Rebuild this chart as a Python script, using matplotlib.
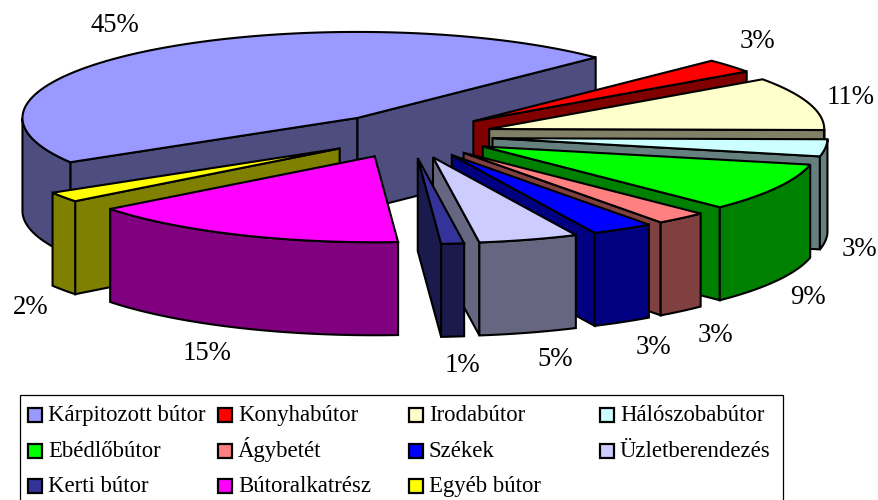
import numpy as np
import matplotlib
matplotlib.use('Agg')
import matplotlib.pyplot as plt
from matplotlib.colors import to_rgb
from matplotlib.patches import Polygon, Rectangle

plt.rcParams['font.family'] = ['Liberation Serif', 'DejaVu Serif']

categories = ['Kárpitozott bútor', 'Konyhabútor', 'Irodabútor', 'Hálószobabútor',
              'Ebédlőbútor', 'Ágybetét', 'Székek', 'Üzletberendezés',
              'Kerti bútor', 'Bútoralkatrész', 'Egyéb bútor']
# slice sizes as measured on the picture, the printed labels are rounded differently
shares = [46.2, 2.6, 10.0, 3.2, 9.1, 2.5, 3.0, 4.8, 1.1, 15.6, 1.9]
pct_labels = ['45%', '3%', '11%', '3%', '9%', '3%', '3%', '5%', '1%', '15%', '2%']
colors = ['#9999FF', '#FF0000', '#FFFFCC', '#CCFFFF', '#00FF00', '#FF8080',
          '#0000FF', '#CCCCFF', '#333399', '#FF00FF', '#FFFF00']

label_pos = [(115, 25), (757, 41), (851, 97), (859, 249), (808, 297), (715, 336),
             (653, 348), (555, 360), (462, 365), (207, 354), (31, 307)]

# pie geometry in pixels
CX, CY = 409, 135.7
RX, RY = 335, 86
EX, EY = 84, 22.5
DEPTH = 93
START = 211
LW = 1.5

# back slices first, then the left ones, then round the front
draw_order = [0, 10, 9, 1, 2, 3, 4, 5, 6, 7, 8]


def darker(c):
    return tuple(v * 0.5 for v in to_rgb(c))


def rim(ox, oy, angles):
    rad = np.radians(angles)
    return np.column_stack([ox + RX * np.cos(rad), oy - RY * np.sin(rad)])


def drop(pts):
    return (pts + [0, DEPTH])[::-1]


def draw_slice(ax, a0, a1, color):
    """a0 is the clockwise start, a1 < a0 the clockwise end, degrees"""
    mid = np.radians((a0 + a1) / 2)
    ox = CX + EX * np.cos(mid)
    oy = CY - EY * np.sin(mid)
    apex = np.array([[ox, oy]])
    side = darker(color)

    def wall(pts):
        ax.add_patch(Polygon(np.vstack([pts, drop(pts)]), closed=True, fc=side,
                             ec='black', lw=LW, joinstyle='miter'))

    if np.cos(np.radians(a0)) < 0:
        wall(np.vstack([apex, rim(ox, oy, [a0])]))
    if np.cos(np.radians(a1)) > 0:
        wall(np.vstack([apex, rim(ox, oy, [a1])]))

    # outer wall, only the part facing the viewer
    angles = np.linspace(a0, a1, 200)
    front = angles[np.sin(np.radians(angles)) <= 0.0001]
    if len(front) > 1:
        wall(rim(ox, oy, front))

    top = np.vstack([apex, rim(ox, oy, angles)])
    ax.add_patch(Polygon(top, closed=True, fc=color, ec='black', lw=LW, joinstyle='miter'))


fig = plt.figure(figsize=(8.79, 5), dpi=100)
ax = fig.add_axes([0, 0, 1, 1])
ax.set_xlim(0, 879)
ax.set_ylim(500, 0)
ax.axis('off')

sizes = np.array(shares) / sum(shares) * 360
ends = START - np.cumsum(sizes)
starts = ends + sizes
for i in draw_order:
    draw_slice(ax, starts[i], ends[i], colors[i])

for txt, (x, y) in zip(pct_labels, label_pos):
    ax.text(x, y, txt, fontsize=19.3, ha='center', va='center', color='black')

# legend box runs off the bottom of the picture
ax.add_patch(Rectangle((20, 395), 763, 115, fc='white', ec='black', lw=0.9))
col_x = [28, 218, 409, 600]
row_y = [415, 451, 486]
for i, name in enumerate(categories):
    x = col_x[i % 4]
    y = row_y[i // 4]
    ax.add_patch(Rectangle((x, y - 7), 14, 14, fc=colors[i], ec='black', lw=1.6))
    ax.text(x + 20, y + 6, name, fontsize=16.4, ha='left', va='baseline', color='black')

fig.savefig('out.png', dpi=100)
